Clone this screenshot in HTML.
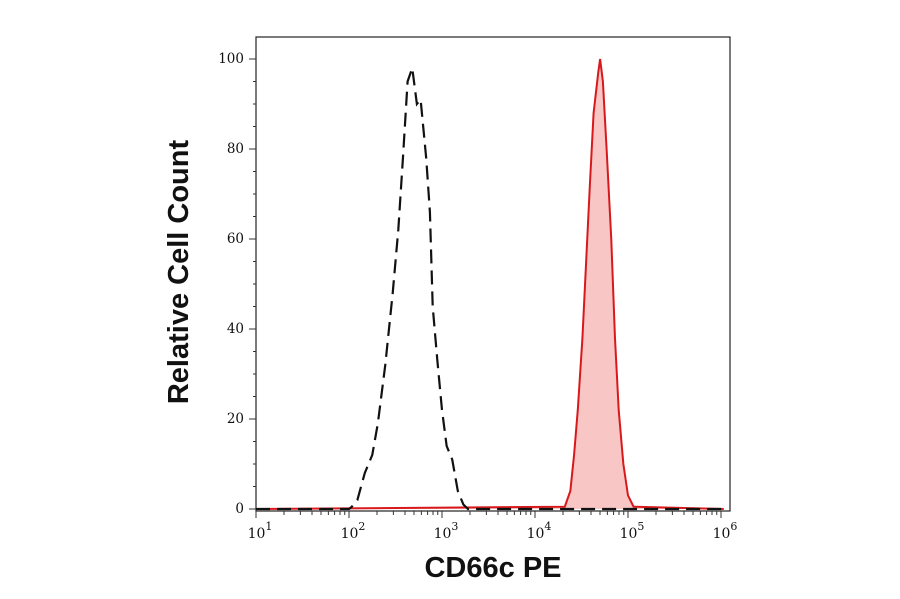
<!DOCTYPE html>
<html><head><meta charset="utf-8"><style>
body{margin:0;background:#fff;width:900px;height:594px;overflow:hidden}
svg text{font-family:"DejaVu Serif","Liberation Serif",serif}
</style></head><body>
<svg id="chart" width="900" height="594" viewBox="0 0 900 594"></svg>
<script>
const blackLog=[1.0,2.0,2.03,2.09,2.17,2.25,2.31,2.39,2.47,2.53,2.58,2.63,2.68,2.73,2.77,2.83,2.87,2.90,2.95,3.00,3.05,3.11,3.17,3.23,3.28,6.03];
const blackVal=[0,0,0.5,2,8,12,19,32,48,62,78,95,98,90,91,78,66,45,33,22,14,11,4,1,0,0];
const redLog=[1.0,4.32,4.38,4.42,4.46,4.51,4.55,4.59,4.63,4.68,4.70,4.73,4.77,4.82,4.86,4.90,4.95,5.00,5.06,6.03];
const redVal=[0,0.5,4,12,22,38,55,72,88,97,100,95,80,60,38,22,10,3,0.5,0];
const yTicks=[0,20,40,60,80,100];
const xDecades=[1,2,3,4,5,6];
const L=256,R=730,T=37,B=511;
const xs=v=>L+(v-1)*93;
const ys=v=>509-v*4.5;
const svg=document.getElementById('chart');
const NS='http://www.w3.org/2000/svg';
function mk(t,a,p){const e=document.createElementNS(NS,t);for(const k in a)e.setAttribute(k,a[k]);(p||svg).appendChild(e);return e;}
let f=mk('rect',{x:L,y:T,width:R-L,height:B-T,fill:'none',stroke:'#222','stroke-width':1.2});


let pts=redLog.map((v,i)=>xs(v)+','+ys(redVal[i])).join(' ');
let area=mk('polygon',{points:pts+' '+xs(6.03)+','+ys(0)+' '+xs(1)+','+ys(0),fill:'#f9c6c6',stroke:'none'});


let red=mk('polyline',{points:pts,fill:'none',stroke:'#d8191c','stroke-width':2});


let bpts=blackLog.map((v,i)=>xs(v)+','+ys(blackVal[i])).join(' ');
let blk=mk('polyline',{points:bpts,fill:'none',stroke:'#111','stroke-width':2.2,'stroke-dasharray':'14,7'});


for(let v=0;v<=100;v+=5){const major=v%20===0;mk('line',{x1:L-(major?7:3),x2:L,y1:ys(v),y2:ys(v),stroke:'#333','stroke-width':1});}
yTicks.forEach(v=>{let t=mk('text',{x:L-12,y:ys(v)+4,'text-anchor':'end','font-size':13.5,fill:'#111'});t.textContent=v;

});
for(let d=1;d<6;d++){for(let m=1;m<10;m++){const lv=d+Math.log10(m);mk('line',{x1:xs(lv),x2:xs(lv),y1:B,y2:B+(m===1?7:4),stroke:'#333','stroke-width':1});}}
mk('line',{x1:xs(6),x2:xs(6),y1:B,y2:B+7,stroke:'#333','stroke-width':1});
xDecades.forEach(d=>{let t=mk('text',{x:xs(d)+4,y:B+27,'text-anchor':'middle','font-size':14,fill:'#111'});t.textContent='10';


let s=mk('tspan',{dy:-8,'font-size':11},t);s.textContent=d;});
let xt=mk('text',{x:493,y:577,'text-anchor':'middle','font-size':29,'font-weight':'bold',fill:'#111',style:'font-family:"Liberation Sans",sans-serif'});xt.textContent='CD66c PE';


let yt=mk('text',{x:0,y:0,'text-anchor':'middle','font-size':29,'font-weight':'bold',fill:'#111',transform:'translate(188,272) rotate(-90)',style:'font-family:"Liberation Sans",sans-serif'});yt.textContent='Relative Cell Count';


</script>
</body></html>
